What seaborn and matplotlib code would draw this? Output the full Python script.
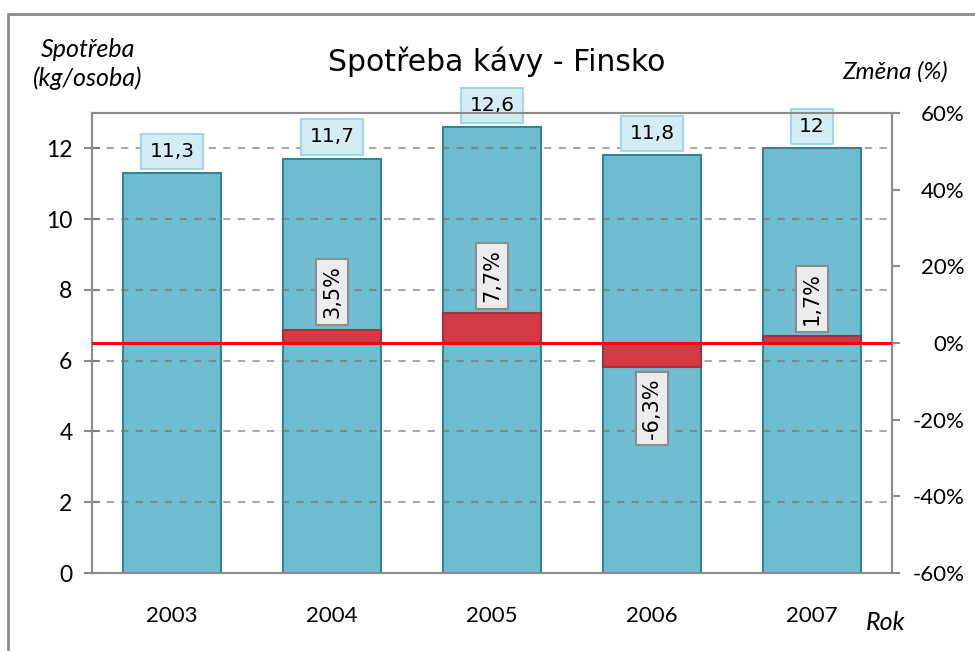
import numpy as np
import pandas as pd
import seaborn as sns
import matplotlib.pyplot as plt
from matplotlib.patches import Rectangle

years = ["2003", "2004", "2005", "2006", "2007"]
consumption = [11.3, 11.7, 12.6, 11.8, 12.0]
change_pct = [np.nan, 3.5, 7.7, -6.3, 1.7]
left_ticks = [0, 2, 4, 6, 8, 10, 12]
right_ticks = [-60, -40, -20, 0, 20, 40, 60]

df = pd.DataFrame({"rok": years, "spotreba": consumption, "zmena": change_pct})

sns.set_style("white")
plt.rcParams['font.family'] = ['Lato', 'DejaVu Sans']
plt.rcParams['text.color'] = 'black'
plt.rcParams['xtick.color'] = 'black'
plt.rcParams['ytick.color'] = 'black'

fig = plt.figure(figsize=(9.75, 6.51), dpi=100)
# outer chart frame
fig.patches.append(Rectangle((8 / 975, -0.1), 1.2, 1.1 - 14 / 651, transform=fig.transFigure,
                             fill=False, edgecolor="#8c8c8c", linewidth=2))

ax = fig.add_axes([92 / 975, 1 - 573 / 651, 800 / 975, 460 / 651])
sns.barplot(data=df, x="rok", y="spotreba", ax=ax, color="#70bcd0", saturation=1,
            width=0.61, edgecolor="#31859b", linewidth=1.5, zorder=2)
ax.set_xlim(-0.5, 4.5)
ax.set_ylim(0, 13)
for y in left_ticks[1:]:
    ax.axhline(y, color="#707070", ls=(0, (3.5, 3.5)), lw=1.5, alpha=0.6, zorder=3)

for i, v in enumerate(consumption):
    ax.annotate(f"{v:g}".replace(".", ","), (i, v), xytext=(0, 9), textcoords="offset points",
                ha="center", va="bottom", fontsize=14.5, family="DejaVu Sans", zorder=5,
                bbox=dict(boxstyle="square,pad=0.4", fc="#d4edf4", ec="#92d2e3", lw=1.2))

ax2 = ax.twinx()
sns.barplot(data=df, x="rok", y="zmena", ax=ax2, color="#d23a45", saturation=1,
            width=0.61, edgecolor="#a3303a", linewidth=1.5)
ax2.set_ylim(-60, 60)
ax2.set_xlim(-0.5, 4.5)
ax2.axhline(0, color="#ff0000", lw=2.2, zorder=4)

for i, v in enumerate(change_pct):
    if np.isnan(v):
        continue
    ax2.annotate(f"{v:.1f}%".replace(".", ","), (i, v), xytext=(0, 8 if v > 0 else -8),
                 textcoords="offset points", ha="center", va="bottom" if v > 0 else "top",
                 rotation=90, fontsize=15, family="DejaVu Sans", zorder=6,
                 bbox=dict(boxstyle="square,pad=0.3", fc="#ececec", ec="#8c8c8c", lw=1.5))

for a in (ax, ax2):
    for s in a.spines.values():
        s.set_color("#8c8c8c")
        s.set_linewidth(1.5)
    a.set_xlabel("")
    a.set_ylabel("")

ax.set_yticks(left_ticks)
ax.tick_params(axis="y", direction="inout", length=12, width=1.5, color="#8c8c8c",
               labelsize=16.5, pad=8)
ax.set_xticks(range(len(years)))
ax.set_xticklabels(years)
ax.set_xticks(np.arange(-0.5, 5, 1), minor=True)
ax.tick_params(axis="x", which="major", length=0, labelsize=16, pad=24)
ax.tick_params(axis="x", which="minor", direction="out", length=6, width=1.5, color="#8c8c8c")

ax2.set_yticks(right_ticks)
ax2.set_yticklabels([f"{t}%" for t in right_ticks])
ax2.tick_params(axis="y", direction="out", length=6, width=1.5, color="#8c8c8c",
                labelsize=16, pad=46)
for lbl in ax2.get_yticklabels():
    lbl.set_ha("right")

fig.text(497 / 975, 1 - 62 / 651, "Spotřeba kávy - Finsko", ha="center", va="center",
         fontsize=21.5, family="DejaVu Sans")
fig.text(88 / 975, 1 - 64 / 651, "Spotřeba\n(kg/osoba)", ha="center", va="center",
         fontsize=18, style="italic", linespacing=1.25)
fig.text(895 / 975, 1 - 72 / 651, "Změna (%)", ha="center", va="center",
         fontsize=17.5, style="italic")
fig.text(886 / 975, 1 - 622 / 651, "Rok", ha="center", va="center",
         fontsize=18, style="italic")

fig.savefig("out.png", dpi=100)
